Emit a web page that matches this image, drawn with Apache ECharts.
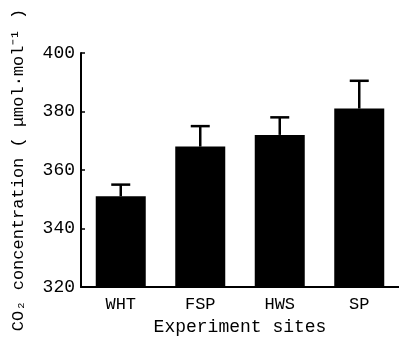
<!DOCTYPE html>
<html>
<head>
<meta charset="utf-8">
<script src="https://cdn.jsdelivr.net/npm/echarts@6/dist/echarts.min.js"></script>
<style>html,body{margin:0;padding:0;background:#fff}#c{width:399px;height:346px}</style>
</head>
<body>
<div id="c"></div>
<script>
const categories = ['WHT', 'FSP', 'HWS', 'SP'];
const means = [351, 368, 372, 381];
const errors = [4, 7, 6, 9.5];
const yTicks = [320, 340, 360, 380, 400];

const chart = echarts.init(document.getElementById('c'));
const font = 'Liberation Mono';
chart.setOption({
  animation: false,
  grid: { left: 81, right: -7, top: 53, bottom: 59 },
  xAxis: {
    type: 'category',
    data: categories,
    name: 'Experiment sites',
    nameLocation: 'middle',
    nameGap: 31,
    nameTextStyle: { fontFamily: font, fontSize: 18, color: '#000' },
    axisLine: { lineStyle: { color: '#000', width: 2 } },
    axisTick: { show: false },
    axisLabel: { fontFamily: font, fontSize: 17, color: '#000', margin: 9 }
  },
  yAxis: {
    type: 'value',
    min: yTicks[0], max: yTicks[yTicks.length - 1], interval: 20,
    name: 'CO\u2082 concentration ( \u03bcmol\u00b7mol\u207b\u00b9 )',
    nameLocation: 'middle',
    nameRotate: 90,
    nameGap: 54,
    nameTextStyle: { fontFamily: font, fontSize: 17, color: '#000' },
    axisLine: { show: true, lineStyle: { color: '#000', width: 2 } },
    axisTick: { show: true, inside: true, length: 4, lineStyle: { color: '#000', width: 1.5 } },
    splitLine: { show: false },
    axisLabel: { fontFamily: font, fontSize: 18, color: '#000', margin: 6 }
  },
  series: [
    {
      type: 'bar',
      data: means,
      barWidth: 50,
      itemStyle: { color: '#000' },
      z: 2
    },
    {
      type: 'custom',
      data: means.map((m, i) => [i, m, m + errors[i]]),
      renderItem: function (params, api) {
        const i = api.value(0);
        const base = api.coord([i, api.value(1)]);
        const top = api.coord([i, api.value(2)]);
        const hw = 9.5;
        return {
          type: 'group',
          children: [
            { type: 'line', shape: { x1: base[0], y1: base[1], x2: top[0], y2: top[1] }, style: { stroke: '#000', lineWidth: 2.5 } },
            { type: 'line', shape: { x1: top[0] - hw, y1: top[1], x2: top[0] + hw, y2: top[1] }, style: { stroke: '#000', lineWidth: 2.5 } }
          ]
        };
      },
      z: 3
    }
  ]
});
</script>
</body>
</html>
